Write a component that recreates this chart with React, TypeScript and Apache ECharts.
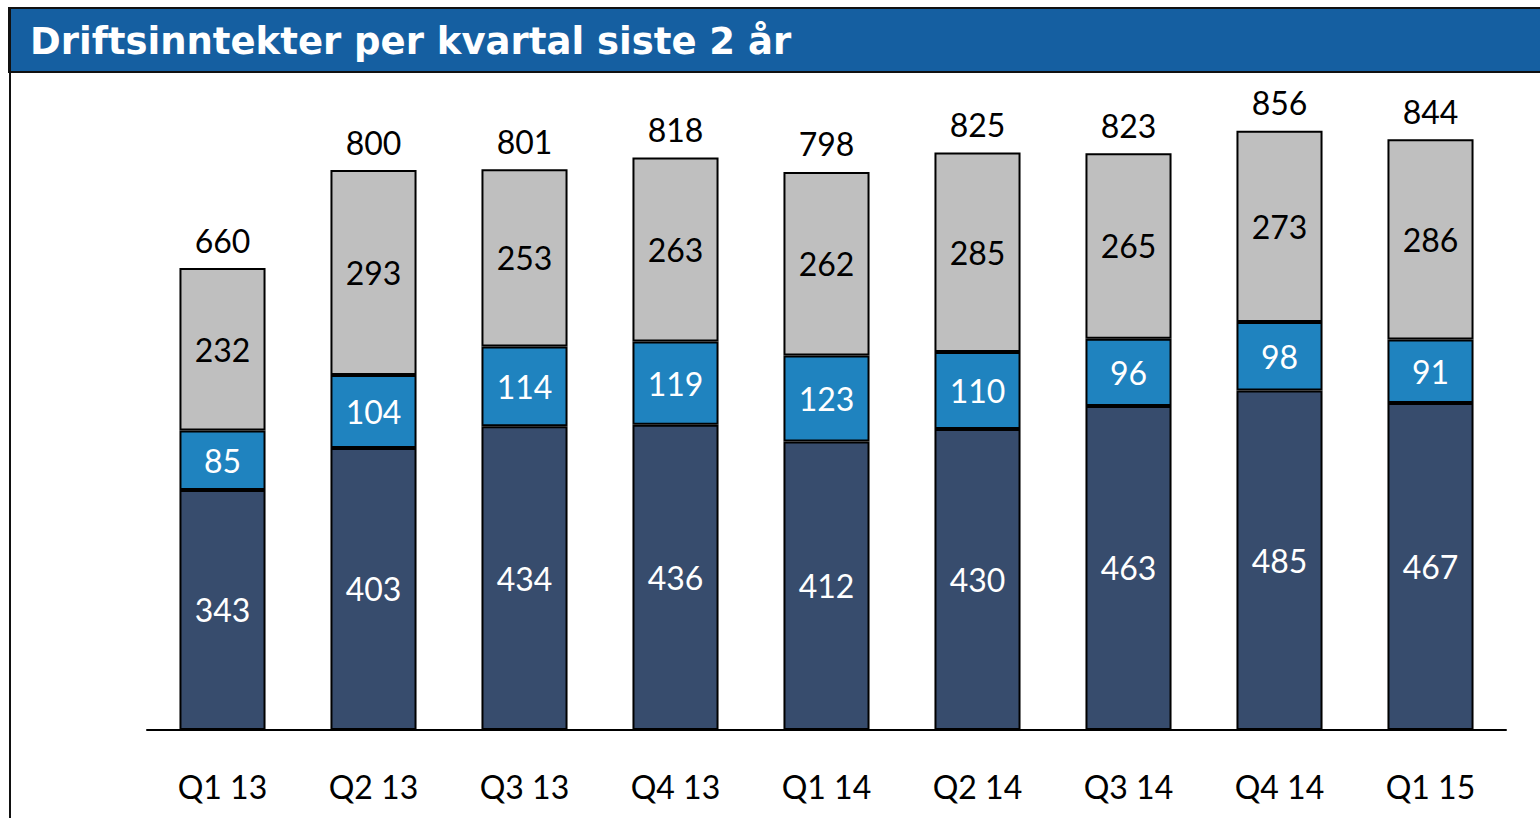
import React, { useEffect, useRef } from "react";
import * as echarts from "echarts";

const categories = ["Q1 13", "Q2 13", "Q3 13", "Q4 13", "Q1 14", "Q2 14", "Q3 14", "Q4 14", "Q1 15"];
const bottomValues = [343, 403, 434, 436, 412, 430, 463, 485, 467];
const middleValues = [85, 104, 114, 119, 123, 110, 96, 98, 91];
const topValues = [232, 293, 253, 263, 262, 285, 265, 273, 286];
const totals = [660, 800, 801, 818, 798, 825, 823, 856, 844];

const TITLE = "Driftsinntekter per kvartal siste 2 år";
const FONT = "Lato, 'Open Sans', sans-serif";

export default function App() {
  const ref = useRef<HTMLDivElement>(null);
  useEffect(() => {
    if (!ref.current) return;
    const chart = echarts.init(ref.current, null, { renderer: "svg" });
    const border = { borderColor: "#000", borderWidth: 2 };
    const inLabel = (color: string) => ({
      show: true,
      position: "inside" as const,
      color,
      fontSize: 32,
      fontFamily: FONT,
    });
    chart.setOption({
      animation: false,
      backgroundColor: "#fff",
      graphic: [
        {
          type: "rect",
          shape: { x: 9, y: 8, width: 1540, height: 64 },
          style: { fill: "#155FA1", stroke: "#111", lineWidth: 2 },
          z: 10,
        },
        {
          type: "line",
          shape: { x1: 10, y1: 8, x2: 10, y2: 818 },
          style: { stroke: "#111", lineWidth: 2 },
          z: 10,
        },
        {
          type: "text",
          x: 30,
          y: 41,
          style: {
            text: TITLE,
            fill: "#fff",
            font: "bold 37px 'DejaVu Sans', Verdana, sans-serif",
            verticalAlign: "middle",
          },
          z: 11,
        },
      ],
      grid: { left: 147, right: 34, top: 100, bottom: 88 },
      xAxis: {
        type: "category",
        data: categories,
        axisLine: { show: true, lineStyle: { color: "#000", width: 2 } },
        axisTick: { show: false },
        axisLabel: { color: "#000", fontSize: 32, fontFamily: FONT, margin: 40 },
      },
      yAxis: {
        type: "value",
        min: 0,
        max: 900,
        show: false,
        splitLine: { show: false },
      },
      series: [
        {
          type: "bar",
          stack: "s",
          data: bottomValues,
          barWidth: "57%",
          itemStyle: { color: "#374C6D", ...border },
          label: inLabel("#fff"),
        },
        {
          type: "bar",
          stack: "s",
          data: middleValues,
          itemStyle: { color: "#1F83BF", ...border },
          label: inLabel("#fff"),
        },
        {
          type: "bar",
          stack: "s",
          data: topValues,
          itemStyle: { color: "#BFBFBF", ...border },
          label: inLabel("#000"),
        },
        {
          type: "bar",
          data: totals,
          barGap: "-100%",
          barWidth: "57%",
          silent: true,
          z: 1,
          itemStyle: { color: "rgba(0,0,0,0)", borderWidth: 0 },
          label: {
            show: true,
            position: "top",
            distance: 12,
            color: "#000",
            fontSize: 32,
            fontFamily: FONT,
          },
        },
      ],
    });
    return () => chart.dispose();
  }, []);
  return (
    <div
      ref={ref}
      style={{ position: "fixed", left: 0, top: 0, width: 1540, height: 818 }}
    />
  );
}
